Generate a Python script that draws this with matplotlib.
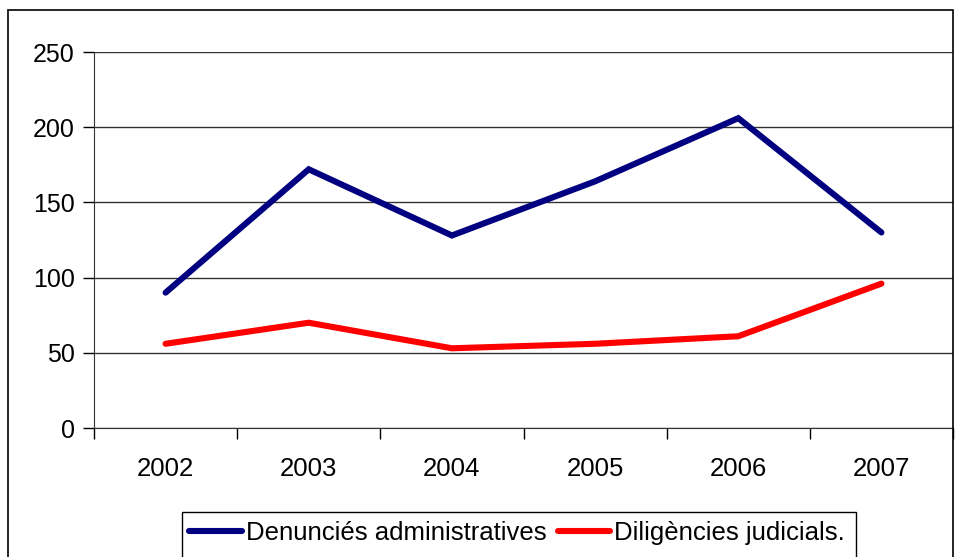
import matplotlib
matplotlib.use('Agg')
import matplotlib.pyplot as plt
from matplotlib.patches import Rectangle

years = ['2002', '2003', '2004', '2005', '2006', '2007']
denuncies = [90, 172, 128, 164, 206, 130]
diligencies = [56, 70, 53, 56, 61, 96]
labels = ['Denunciés administratives', 'Diligències judicials.']

plt.rcParams['font.family'] = ['Liberation Sans', 'DejaVu Sans']

W, H = 961, 557
fig = plt.figure(figsize=(W / 100, H / 100), dpi=100)

# outer chart border
fig.patches.append(Rectangle((8 / W, 1 - 600 / H), (953 - 8) / W, (600 - 10) / H,
                             transform=fig.transFigure, fill=False,
                             edgecolor='black', linewidth=1.2))

ax = fig.add_axes([94 / W, 1 - 428 / H, (953 - 94) / W, (428 - 52) / H])

x = list(range(len(years)))
l1, = ax.plot(x, denuncies, color='#000080', linewidth=4.4, solid_capstyle='round',
              solid_joinstyle='miter', label=labels[0])
l2, = ax.plot(x, diligencies, color='#FF0000', linewidth=4.4, solid_capstyle='round',
              solid_joinstyle='miter', label=labels[1])

ax.set_xlim(-0.5, len(years) - 0.5)
ax.set_ylim(0, 250)
ax.set_yticks(range(0, 251, 50))
ax.set_xticks(x)
ax.set_xticklabels(years)
ax.set_xticks([i - 0.5 for i in range(len(years) + 1)], minor=True)
ax.tick_params(axis='x', which='major', length=0, pad=21, labelsize=18.5)
ax.tick_params(axis='x', which='minor', length=8, width=1, direction='out')
ax.tick_params(axis='y', length=8, width=1, direction='out', pad=6, labelsize=18)

ax.grid(axis='y', color='#333333', linewidth=1)
ax.set_axisbelow(True)
for side in ['top', 'right']:
    ax.spines[side].set_visible(False)
ax.spines['left'].set_color('#333333')
ax.spines['bottom'].set_color('#333333')

# legend box (runs off the bottom edge)
fig.patches.append(Rectangle((182 / W, 1 - 600 / H), (856 - 182) / W, (600 - 512) / H,
                             transform=fig.transFigure, fill=False,
                             edgecolor='black', linewidth=1))
fig.legend(handles=[l1, l2], loc='center left', bbox_to_anchor=(189 / W, 1 - 533 / H),
           ncol=2, frameon=False, fontsize=18.5, handlelength=2.05, handletextpad=0.15,
           columnspacing=0.45, borderpad=0, borderaxespad=0)

fig.savefig('out.png', dpi=100)
